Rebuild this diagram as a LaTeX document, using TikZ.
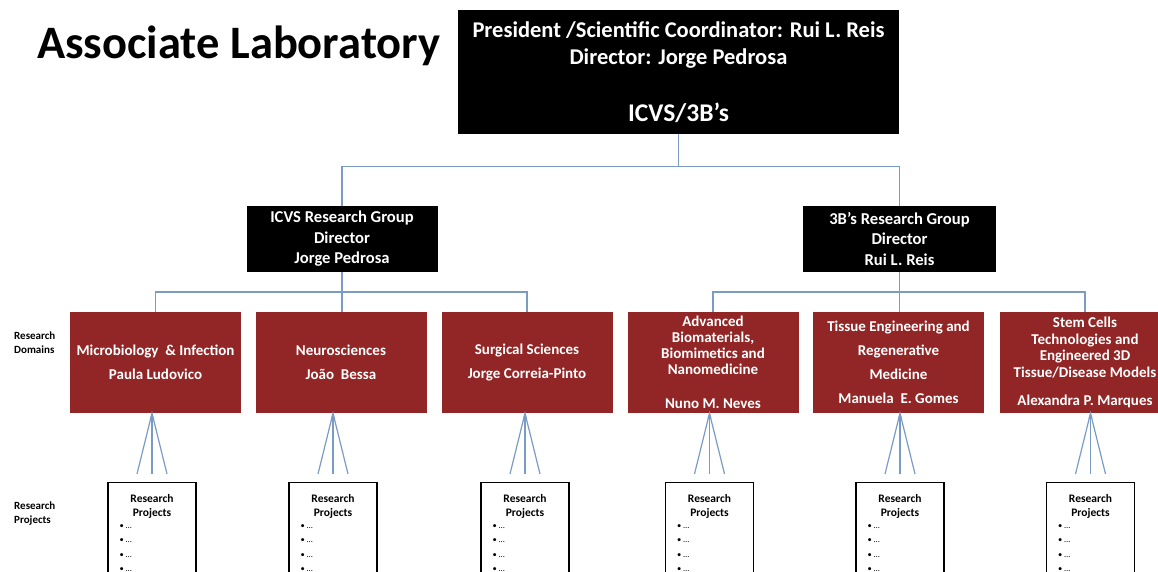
\documentclass[tikz,border=0pt]{standalone}
\usepackage{fontspec}
\setmainfont{Carlito}
\usetikzlibrary{positioning,calc,arrows.meta}

\definecolor{domred}{RGB}{146,38,38}
\definecolor{linkblue}{RGB}{122,155,196}

\tikzset{
  headbox/.style={fill=black, text=white, align=center, inner sep=2pt},
  domainbox/.style={fill=domred, text=white, align=center, minimum width=171pt,
    minimum height=101pt, inner sep=2pt, font=\fontsize{15}{24}\selectfont\bfseries},
  projbox/.style={draw=black, line width=1.1pt, fill=white, minimum width=88pt,
    minimum height=130pt, anchor=north},
  projtitle/.style={anchor=north, align=center, inner sep=0pt,
    font=\fontsize{11.5}{14}\selectfont\bfseries},
  projitems/.style={anchor=north west, align=left, inner sep=0pt,
    font=\fontsize{8.5}{14.5}\selectfont},
  link/.style={draw=linkblue, line width=1.2pt},
  sidelabel/.style={anchor=west, align=left, inner sep=0pt,
    font=\fontsize{11}{14}\selectfont\bfseries},
}

\begin{document}
\begin{tikzpicture}[x=1pt, y=-1pt]
\useasboundingbox (0,0) rectangle (1158,571);

\node[anchor=base west, inner sep=0pt, font=\fontsize{46.5}{46.5}\selectfont\bfseries] (title) at (37,58) {Associate Laboratory};

\node[headbox, minimum width=441pt, minimum height=124pt, font=\fontsize{22.5}{27}\selectfont\bfseries] (top) at (678.5,72)
  {President /Scientific Coordinator: Rui L. Reis\\Director: Jorge Pedrosa\\[30pt]{\fontsize{25.5}{27}\selectfont ICVS/3B’s}};

\node[headbox, minimum width=191pt, minimum height=66pt, font=\fontsize{16.6}{20.5}\selectfont\bfseries] (icvs) at (342,239)
  {ICVS Research Group\\Director\\Jorge Pedrosa};
\node[headbox, minimum width=193pt, minimum height=66pt, font=\fontsize{16.6}{20.5}\selectfont\bfseries] (threeb) at (899.5,239)
  {3B’s Research Group\\Director\\Rui L. Reis};

% research domains
\node[domainbox] (dom1) at (155.5,362.5) {Microbiology \ \& Infection\\Paula Ludovico};
\node[domainbox] (dom2) at (341,362.5) {Neurosciences\\João \ Bessa};
\node[domainbox] (dom3) at (527,362.5) {Surgical Sciences\\Jorge Correia-Pinto};
\node[domainbox, font=\fontsize{15}{16}\selectfont\bfseries] (dom4) at (713,362.5)
  {Advanced\\Biomaterials,\\Biomimetics and\\Nanomedicine\\[18pt]Nuno M. Neves};
\node[domainbox] (dom5) at (898.5,362.5) {Tissue Engineering and\\Regenerative\\Medicine\\Manuela \ E. Gomes};
\node[domainbox, font=\fontsize{15}{16.5}\selectfont\bfseries] (dom6) at (1085,362.5)
  {Stem Cells\\Technologies and\\Engineered 3D\\Tissue/Disease Models\\[12pt]Alexandra P. Marques};

\node[sidelabel] (domlabel) at (14,343) {Research\\Domains};
\node[sidelabel] (projlabel) at (14,514) {Research\\Projects};

\coordinate (hub) at ($(top.south)!0.45!(icvs.north)$);
\draw[link] (top.south) -- (top.south |- hub);
\draw[link] (icvs.north) |- (hub) -| (threeb.north);

\coordinate (hubicvs) at ($(icvs.south)!0.5!(dom2.north)$);
\draw[link] (icvs.south) -- (icvs.south |- dom2.north);
\draw[link] (dom1.north) |- (hubicvs) -| (dom3.north);

\coordinate (hubthreeb) at ($(threeb.south)!0.5!(dom5.north)$);
\draw[link] (threeb.south) -- (threeb.south |- dom5.north);
\draw[link] (dom4.north) |- (hubthreeb) -| (dom6.north);

% research projects
\foreach \i/\x in {1/152, 2/333, 3/525, 4/709.5, 5/900, 6/1090.5} {
  \node[projbox] (proj\i) at (\x,482) {};
  \node[projtitle] (ptitle\i) at ([yshift=-12pt]proj\i.north) {Research\\Projects};
  \node[projitems] (pitems\i) at ([xshift=12pt, yshift=-42pt]proj\i.north west)
    {\textbullet\ …\\\textbullet\ …\\\textbullet\ …\\\textbullet\ …};
  \coordinate (tip\i) at (dom\i.south -| proj\i.north);
  \coordinate (footl\i) at ([xshift=-15pt, yshift=8pt]proj\i.north);
  \coordinate (footm\i) at ([yshift=8pt]proj\i.north);
  \coordinate (footr\i) at ([xshift=15pt, yshift=8pt]proj\i.north);
  \draw[link] (footl\i) -- (tip\i) -- (footr\i);
  \draw[link, -{Stealth[length=5pt, width=4pt]}] (footm\i) -- (tip\i);
}
\end{tikzpicture}
\end{document}
